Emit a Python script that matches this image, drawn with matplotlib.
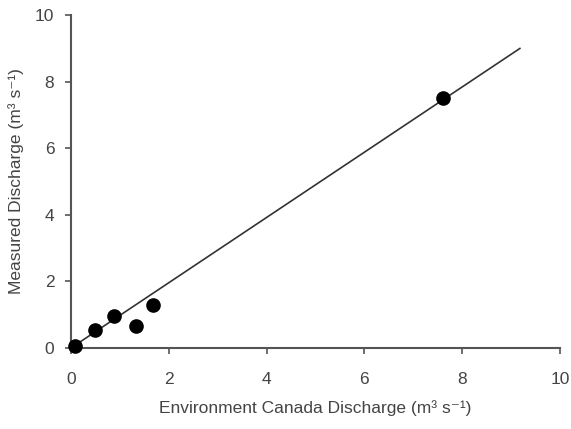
import matplotlib.pyplot as plt
import numpy as np

plt.rcParams['font.family'] = ['Liberation Sans', 'DejaVu Sans']

# Environment Canada vs measured discharge (m3/s)
ec_discharge = [0.08, 0.49, 0.88, 1.33, 1.68, 7.61]
measured_discharge = [0.06, 0.54, 0.96, 0.66, 1.29, 7.51]
fit_slope = 0.98
fit_xmax = 9.18

fig = plt.figure(figsize=(5.71, 4.29), dpi=100)
ax = fig.add_axes([0.1243, 0.1888, 0.8564, 0.7762])

xs = np.array([0, fit_xmax])
ax.plot(xs, fit_slope * xs, color='#333333', lw=1.2, zorder=2)
ax.plot(ec_discharge, measured_discharge, 'o', color='black', ms=9.5,
        zorder=3, clip_on=False)

ax.set_xlim(0, 10)
ax.set_ylim(0, 10)
ax.set_xticks(range(0, 11, 2))
ax.set_yticks(range(0, 11, 2))

for side in ['top', 'right']:
    ax.spines[side].set_visible(False)
for side in ['left', 'bottom']:
    ax.spines[side].set_color('#555555')
    ax.spines[side].set_linewidth(1.5)
ax.tick_params(colors='#555555', labelcolor='#444444', labelsize=12.5,
               length=4, width=1.2, direction='out')
ax.tick_params(axis='x', pad=13)
ax.tick_params(axis='y', pad=8)

ax.set_xlabel('Environment Canada Discharge (m\u00b3 s\u207b\u00b9)',
              fontsize=12.5, color='#444444', labelpad=10)
ax.set_ylabel('Measured Discharge (m\u00b3 s\u207b\u00b9)',
              fontsize=12.5, color='#444444', labelpad=8)

fig.savefig('out.png', dpi=100)
